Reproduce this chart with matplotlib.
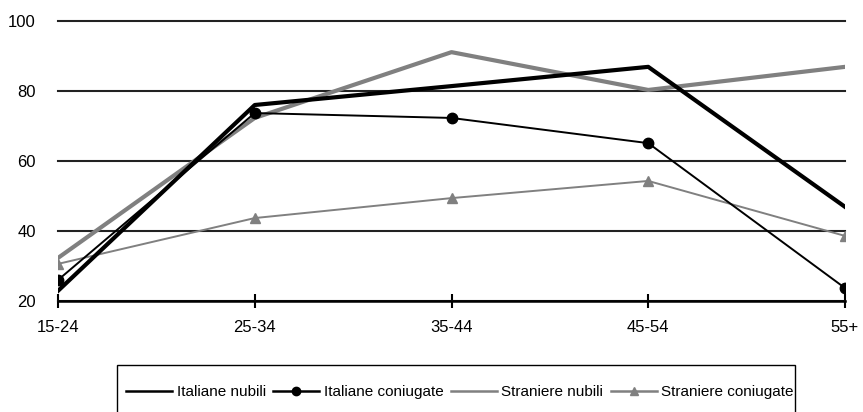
import matplotlib
matplotlib.use('Agg')
import matplotlib.pyplot as plt
from matplotlib.lines import Line2D
from matplotlib.patches import Rectangle

plt.rcParams['font.family'] = ['Liberation Sans Narrow', 'Liberation Sans', 'DejaVu Sans']

categories = ['15-24', '25-34', '35-44', '45-54', '55+']
italiane_nubili = [22.9, 76.0, 81.4, 86.9, 46.9]
italiane_coniugate = [26.0, 73.7, 72.3, 65.1, 23.7]
straniere_nubili = [32.3, 72.3, 91.1, 80.3, 86.9]
straniere_coniugate = [30.6, 43.7, 49.4, 54.3, 38.6]
labels = ['Italiane nubili', 'Italiane coniugate', 'Straniere nubili', 'Straniere coniugate']

BLACK = '#000000'
GREY = '#808080'

fig = plt.figure(figsize=(8.63, 4.12), dpi=100)
ax = fig.add_axes([58/863, 1 - 301/412, (845 - 58)/863, 280/412])

x = range(len(categories))
ax.plot(x, italiane_nubili, color=BLACK, lw=3.0, zorder=4)
ax.plot(x, italiane_coniugate, color=BLACK, lw=1.4, marker='o', ms=7.5, zorder=5)
ax.plot(x, straniere_nubili, color=GREY, lw=3.0, zorder=3)
ax.plot(x, straniere_coniugate, color=GREY, lw=1.4, marker='^', ms=7.5, zorder=3)

ax.set_xlim(0, len(categories) - 1)
ax.set_ylim(20, 100)
ax.set_yticks([20, 40, 60, 80, 100])
ax.yaxis.grid(True, color='#222222', lw=1.5)
for gl in ax.get_ygridlines():
    gl.set_clip_on(False)
ax.set_axisbelow(True)
for s in ['left', 'right', 'top']:
    ax.spines[s].set_visible(False)
ax.spines['bottom'].set_color('black')
ax.spines['bottom'].set_linewidth(1.8)
ax.set_xticks(list(x))
ax.set_xticklabels(categories)
ax.tick_params(axis='x', direction='inout', length=10, width=1.5, labelsize=12, pad=9)
ax.tick_params(axis='y', length=0, labelsize=12, pad=16)

# legend with thin handles, frame drawn separately
handles = [
    Line2D([], [], color=BLACK, lw=1.8),
    Line2D([], [], color=BLACK, lw=1.8, marker='o', ms=6),
    Line2D([], [], color=GREY, lw=1.8),
    Line2D([], [], color=GREY, lw=1.8, marker='^', ms=6),
]
fig.legend(handles, labels, loc='center', bbox_to_anchor=(460/863, 1 - 392/412), ncol=4,
           frameon=False, fontsize=11, handlelength=3.0, handletextpad=0.3,
           columnspacing=0.5)
fig.patches.append(Rectangle((117/863, -0.05), (795 - 117)/863, 0.05 + (412 - 365)/412,
                             transform=fig.transFigure, fill=False,
                             edgecolor='black', lw=1.0))

fig.savefig('out.png', dpi=100, facecolor='white')
